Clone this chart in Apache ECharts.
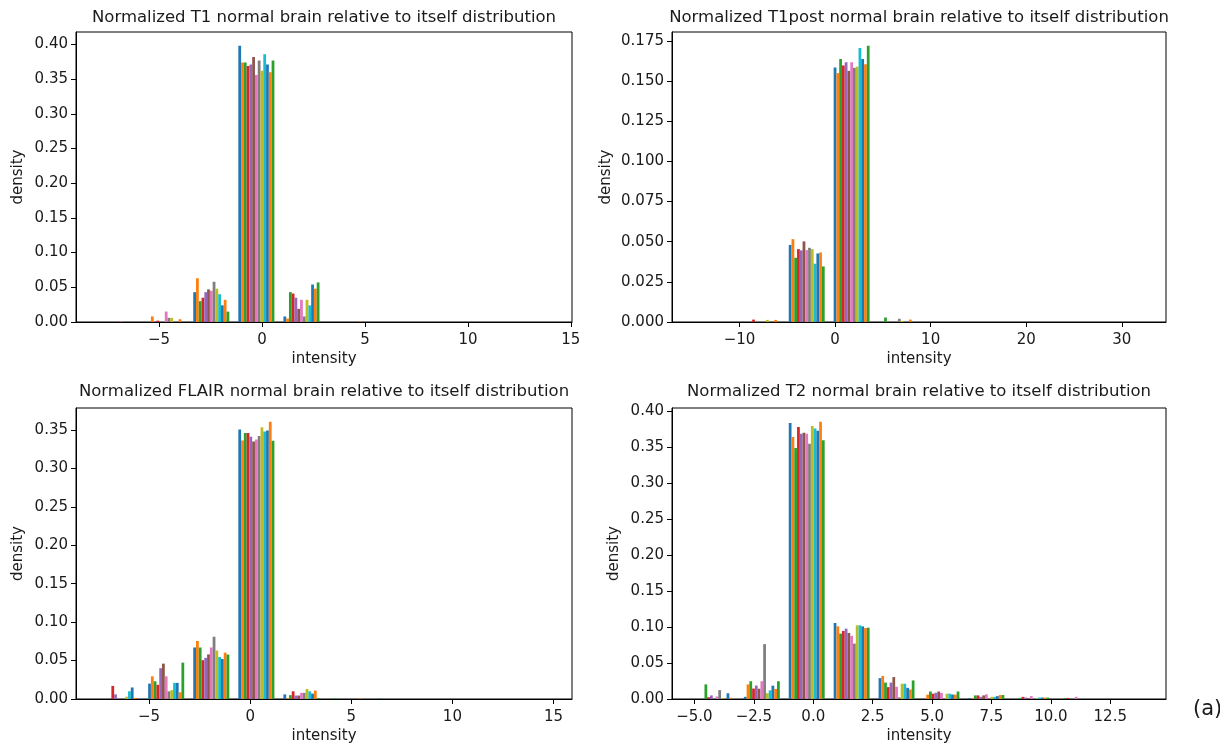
<!DOCTYPE html>
<html><head><meta charset="utf-8">
<script src="https://cdn.jsdelivr.net/npm/echarts@6/dist/echarts.min.js"></script>
<style>html,body{margin:0;padding:0;background:#fff}#c{width:1220px;height:749px}</style>
</head><body><div id="c"></div>
<script>
// ---- data ----
const seriesColors = ['#1f77b4','#ff7f0e','#2ca02c','#d62728','#9467bd','#8c564b','#e377c2','#7f7f7f','#bcbd22','#17becf','#1f77b4','#ff7f0e','#2ca02c'];

const titles = [
  'Normalized T1 normal brain relative to itself distribution',
  'Normalized T1post normal brain relative to itself distribution',
  'Normalized FLAIR normal brain relative to itself distribution',
  'Normalized T2 normal brain relative to itself distribution'
];

// histogram bin edges (10 bins each)
const t1Edges     = [-7.94, -5.75, -3.56, -1.37, 0.82, 3.01, 5.2, 7.39, 9.58, 11.77, 13.96];
const t1postEdges = [-14.72, -10.02, -5.32, -0.62, 4.08, 8.78, 13.48, 18.18, 22.88, 27.58, 32.28];
const flairEdges  = [-7.5, -5.27, -3.04, -0.81, 1.42, 3.65, 5.88, 8.11, 10.34, 12.57, 14.8];
const t2Edges     = [-5.0, -3.11, -1.22, 0.67, 2.56, 4.45, 6.34, 8.23, 10.12, 12.01, 13.9];

// density values: one row per dataset (13), one column per bin (10)
const t1Values = [
  [0, 0, 0.043, 0.398, 0.008, 0, 0, 0, 0, 0],
  [0, 0.008, 0.063, 0.374, 0.005, 0, 0, 0, 0, 0],
  [0, 0, 0.030, 0.374, 0.043, 0, 0, 0, 0, 0],
  [0, 0.002, 0.035, 0.369, 0.041, 0, 0, 0, 0, 0],
  [0, 0, 0.043, 0.371, 0.035, 0, 0, 0, 0, 0],
  [0, 0, 0.047, 0.382, 0.019, 0, 0, 0, 0, 0],
  [0.001, 0.015, 0.045, 0.356, 0.032, 0, 0, 0, 0, 0],
  [0, 0.006, 0.058, 0.377, 0.008, 0, 0, 0, 0, 0],
  [0, 0.006, 0.048, 0.362, 0.032, 0, 0, 0, 0, 0],
  [0, 0, 0.040, 0.386, 0.024, 0, 0, 0, 0, 0],
  [0, 0, 0.024, 0.371, 0.054, 0, 0, 0, 0, 0],
  [0, 0.004, 0.032, 0.360, 0.048, 0.001, 0, 0, 0, 0],
  [0, 0, 0.015, 0.377, 0.057, 0, 0, 0, 0, 0]
];
const t1postValues = [
  [0, 0, 0.0480, 0.1585, 0, 0, 0, 0, 0, 0],
  [0, 0, 0.0516, 0.1550, 0, 0, 0, 0, 0, 0],
  [0, 0, 0.0400, 0.1638, 0.0028, 0, 0, 0, 0, 0],
  [0, 0.0015, 0.0454, 0.1597, 0, 0, 0, 0, 0, 0],
  [0, 0, 0.0446, 0.1618, 0, 0, 0, 0, 0, 0],
  [0, 0, 0.0502, 0.1564, 0, 0, 0, 0, 0, 0],
  [0, 0, 0.0448, 0.1618, 0, 0, 0, 0, 0, 0],
  [0, 0, 0.0462, 0.1583, 0.0020, 0, 0, 0, 0, 0],
  [0, 0.0013, 0.0454, 0.1590, 0.0007, 0, 0, 0, 0, 0],
  [0, 0, 0.0363, 0.1707, 0, 0, 0, 0, 0, 0],
  [0, 0, 0.0427, 0.1638, 0, 0, 0, 0, 0, 0],
  [0, 0.0013, 0.0433, 0.1605, 0.0015, 0, 0, 0, 0, 0],
  [0, 0, 0.0346, 0.1720, 0, 0, 0, 0, 0, 0]
];
const flairValues = [
  [0, 0.020, 0.067, 0.3505, 0.006, 0, 0, 0, 0, 0],
  [0, 0.0295, 0.0755, 0.3363, 0.001, 0, 0, 0, 0, 0],
  [0, 0.023, 0.067, 0.346, 0.005, 0.001, 0.0008, 0, 0, 0],
  [0.017, 0.0185, 0.0505, 0.346, 0.010, 0, 0, 0, 0, 0],
  [0.006, 0.040, 0.0535, 0.341, 0.0045, 0, 0, 0, 0, 0],
  [0, 0.046, 0.058, 0.335, 0.0045, 0, 0, 0, 0, 0],
  [0, 0.0295, 0.067, 0.3375, 0.008, 0, 0, 0, 0, 0],
  [0, 0.010, 0.081, 0.342, 0.008, 0.0007, 0, 0, 0, 0],
  [0.003, 0.0115, 0.063, 0.3535, 0.013, 0, 0, 0, 0, 0],
  [0.010, 0.021, 0.0545, 0.348, 0.010, 0, 0, 0, 0, 0],
  [0.015, 0.021, 0.052, 0.3493, 0.007, 0, 0, 0, 0, 0],
  [0.0015, 0.0088, 0.0603, 0.3605, 0.011, 0.0012, 0, 0, 0, 0],
  [0, 0.0473, 0.0578, 0.336, 0.0012, 0, 0, 0, 0, 0]
];
const t2Values = [
  [0, 0.003, 0.3836, 0.1056, 0.029, 0, 0.001, 0, 0, 0],
  [0, 0.0203, 0.3643, 0.1010, 0.032, 0.006, 0.001, 0, 0, 0],
  [0.0203, 0.0247, 0.3488, 0.0909, 0.0228, 0.0104, 0.005, 0.0015, 0.0015, 0],
  [0.0025, 0.0145, 0.3779, 0.0946, 0.0165, 0.0074, 0.005, 0.003, 0.0015, 0],
  [0.005, 0.0187, 0.3687, 0.0978, 0.0228, 0.0086, 0.003, 0.002, 0, 0],
  [0, 0.0143, 0.3702, 0.0918, 0.0305, 0.0104, 0.005, 0.001, 0, 0],
  [0.0035, 0.0247, 0.3687, 0.0877, 0.0170, 0.0086, 0.0065, 0.004, 0.003, 0],
  [0.0124, 0.0763, 0.3548, 0.0770, 0.0023, 0.001, 0.001, 0, 0, 0],
  [0.001, 0.008, 0.3795, 0.1024, 0.0212, 0.0074, 0.003, 0.001, 0, 0],
  [0, 0.012, 0.3758, 0.1024, 0.0212, 0.0074, 0.003, 0.002, 0, 0],
  [0.008, 0.0185, 0.3730, 0.1010, 0.0155, 0.0062, 0.004, 0.002, 0, 0],
  [0.0018, 0.014, 0.3852, 0.0987, 0.0132, 0.006, 0.0055, 0.002, 0, 0],
  [0, 0.0247, 0.3595, 0.0991, 0.0258, 0.0104, 0.0055, 0.002, 0, 0]
];

// tick labels
const t1XTicks = [-5, 0, 5, 10, 15];
const t1postXTicks = [-10, 0, 10, 20, 30];
const flairXTicks = [-5, 0, 5, 10, 15];
const t2XTicks = [-5, -2.5, 0, 2.5, 5, 7.5, 10, 12.5];
const t1YTicks = [0, 0.05, 0.10, 0.15, 0.20, 0.25, 0.30, 0.35, 0.40];
const t1postYTicks = [0, 0.025, 0.05, 0.075, 0.10, 0.125, 0.15, 0.175];
const flairYTicks = [0, 0.05, 0.10, 0.15, 0.20, 0.25, 0.30, 0.35];
const t2YTicks = [0, 0.05, 0.10, 0.15, 0.20, 0.25, 0.30, 0.35, 0.40];

// ---- layout ----
const panels = [
  {edges: t1Edges, values: t1Values, xt: t1XTicks, yt: t1YTicks, xd: 0, yd: 2, grid: {left: 76, top: 32, width: 496, height: 290}, nameGap: 50, titleTop: 9},
  {edges: t1postEdges, values: t1postValues, xt: t1postXTicks, yt: t1postYTicks, xd: 0, yd: 3, grid: {left: 672, top: 32, width: 494, height: 290}, nameGap: 58, titleTop: 9},
  {edges: flairEdges, values: flairValues, xt: flairXTicks, yt: flairYTicks, xd: 0, yd: 2, grid: {left: 76, top: 408, width: 496, height: 291}, nameGap: 50, titleTop: 383},
  {edges: t2Edges, values: t2Values, xt: t2XTicks, yt: t2YTicks, xd: 1, yd: 2, grid: {left: 672, top: 408, width: 494, height: 291}, nameGap: 50, titleTop: 383}
];

const FONT = 'DejaVu Sans';
const TXT = '#1a1a1a';
const N = seriesColors.length;
const DR = 0.8;

function fmt(v, d) {
  return v.toFixed(d).replace('-', '\u2212');
}

const grids = [], xAxes = [], yAxes = [], series = [], titleList = [];
panels.forEach((p, i) => {
  grids.push(Object.assign({show: true, borderColor: '#000', borderWidth: 1, backgroundColor: 'transparent'}, p.grid));
  const e = p.edges;
  const span = e[e.length - 1] - e[0];
  let ymax = 0;
  p.values.forEach(r => r.forEach(v => { if (v > ymax) ymax = v; }));
  xAxes.push({
    type: 'value', gridIndex: i, position: 'bottom',
    min: e[0] - 0.05 * span, max: e[e.length - 1] + 0.05 * span,
    name: 'intensity', nameLocation: 'middle', nameGap: 30,
    nameTextStyle: {fontFamily: FONT, fontSize: 15, color: TXT},
    axisLine: {show: true, onZero: false, lineStyle: {color: '#000', width: 1}},
    axisTick: {show: true, length: 5, lineStyle: {color: '#000', width: 1}, customValues: p.xt},
    axisLabel: {customValues: p.xt, fontFamily: FONT, fontSize: 15, color: TXT, margin: 11,
      formatter: v => fmt(v, p.xd)},
    splitLine: {show: false}
  });
  yAxes.push({
    type: 'value', gridIndex: i, position: 'left', min: 0, max: ymax * 1.05,
    name: 'density', nameLocation: 'middle', nameGap: p.nameGap, nameRotate: 90,
    nameTextStyle: {fontFamily: FONT, fontSize: 15, color: TXT},
    axisLine: {show: true, onZero: false, lineStyle: {color: '#000', width: 1}},
    axisTick: {show: true, length: 5, lineStyle: {color: '#000', width: 1}, customValues: p.yt},
    axisLabel: {customValues: p.yt, fontFamily: FONT, fontSize: 15, color: TXT, margin: 8,
      formatter: v => fmt(v, p.yd)},
    splitLine: {show: false}
  });
  titleList.push({
    text: titles[i], left: p.grid.left + p.grid.width / 2, top: p.titleTop, textAlign: 'center', padding: 0,
    textStyle: {fontFamily: FONT, fontSize: 16.5, fontWeight: 'normal', color: TXT}
  });
  p.values.forEach((row, k) => {
    const data = row.map((v, b) => [(e[b] + e[b + 1]) / 2, v, e[b + 1] - e[b], k]);
    series.push({
      type: 'custom', xAxisIndex: i, yAxisIndex: i, silent: true,
      encode: {x: 0, y: 1},
      data: data,
      renderItem: function (params, api) {
        const c = api.value(0), v = api.value(1), bw = api.value(2), idx = api.value(3);
        if (!(v > 0)) return null;
        const w = DR * bw / N;
        const x0 = c - 0.5 * DR * bw + idx * w;
        const p0 = api.coord([x0, v]);
        const p1 = api.coord([x0 + w, 0]);
        return {type: 'rect', shape: {x: p0[0], y: p0[1], width: p1[0] - p0[0], height: p1[1] - p0[1]},
          style: {fill: seriesColors[idx]}};
      }
    });
  });
});
titleList.push({text: '(a)', left: 1193, top: 699, padding: 0,
  textStyle: {fontFamily: FONT, fontSize: 21, fontWeight: 'normal', color: TXT}});

const chart = echarts.init(document.getElementById('c'), null, {renderer: 'canvas'});
chart.setOption({
  animation: false,
  backgroundColor: '#fff',
  title: titleList,
  grid: grids, xAxis: xAxes, yAxis: yAxes, series: series
});
</script></body></html>
